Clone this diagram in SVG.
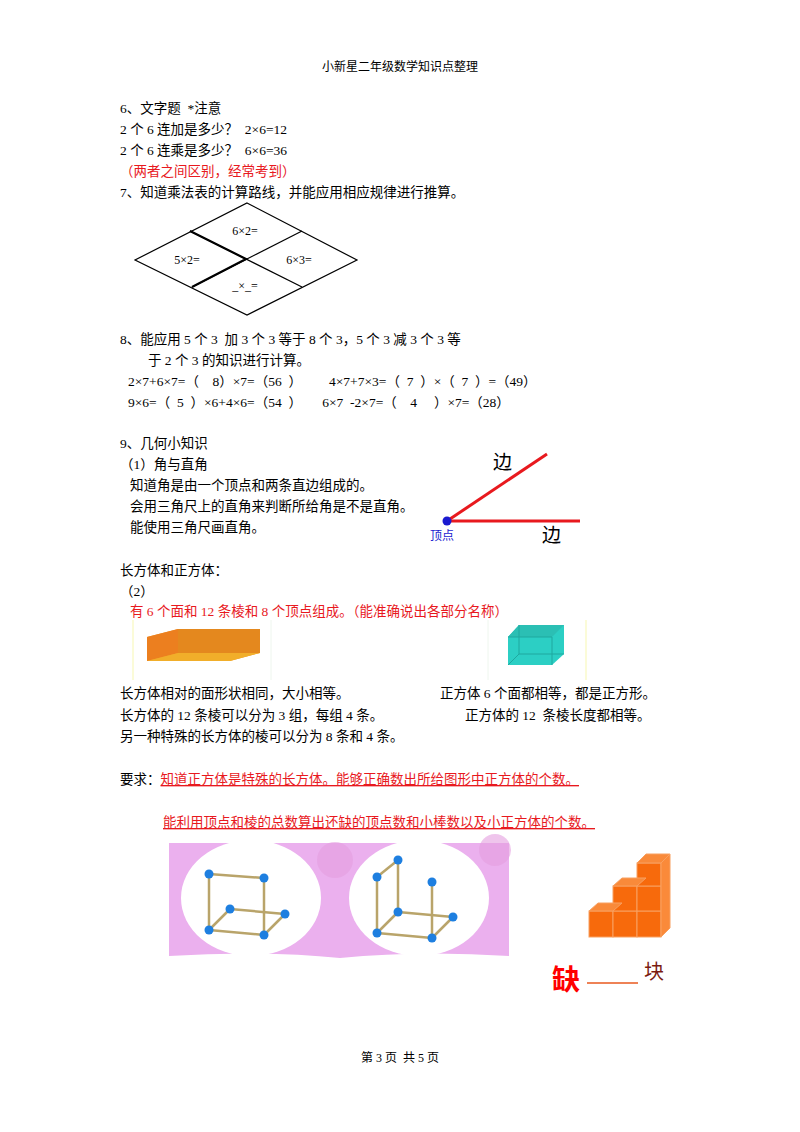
<svg xmlns="http://www.w3.org/2000/svg" width="800" height="1132" viewBox="0 0 800 1132" xml:space="preserve">
<style>
text{font-family:"Liberation Serif","Noto Sans CJK SC",serif;font-size:13.5px;fill:#000;white-space:pre}
.r{fill:#e8191e}
.s{font-size:12px}
.ln{stroke:#000;stroke-width:1.2;fill:none}
.st{stroke:#b9a46a;stroke-width:2.5}
.b{fill:#1e7fe0}
</style>
<rect width="800" height="1132" fill="#fff"/>
<text x="400" y="71" text-anchor="middle" class="s">小新星二年级数学知识点整理</text>
<text x="120" y="113">6、文字题  *注意</text>
<text x="120" y="134">2 个 6 连加是多少？  2×6=12</text>
<text x="120" y="155">2 个 6 连乘是多少？  6×6=36</text>
<text x="120" y="176" class="r">（两者之间区别，经常考到）</text>
<text x="120" y="197">7、知道乘法表的计算路线，并能应用相应规律进行推算。</text>
<g id="diamond">
<polygon class="ln" points="247,203 357,260 247,315 135,260"/>
<line class="ln" x1="190" y1="231" x2="302" y2="287"/>
<line class="ln" x1="302" y1="231" x2="192" y2="287"/>
<polyline points="190,231 246,259 192,287" stroke="#000" stroke-width="2.2" fill="none"/>
<text x="245" y="235" text-anchor="middle" class="s">6×2=</text>
<text x="187" y="264" text-anchor="middle" class="s">5×2=</text>
<text x="299" y="264" text-anchor="middle" class="s">6×3=</text>
<text x="245" y="290" text-anchor="middle" class="s">_×_=</text>
</g>
<text x="120" y="344">8、能应用 5 个 3  加 3 个 3 等于 8 个 3，5 个 3 减 3 个 3 等</text>
<text x="148" y="365">于 2 个 3 的知识进行计算。</text>
<text x="128" y="386">2×7+6×7=（    8）×7=（56  ）        4×7+7×3=（  7  ）×（  7  ）=（49）</text>
<text x="128" y="407">9×6=（  5  ）×6+4×6=（54  ）      6×7  -2×7=（    4     ）×7=（28）</text>
<text x="120" y="448">9、几何小知识</text>
<text x="120" y="469">（1）角与直角</text>
<text x="130" y="490">知道角是由一个顶点和两条直边组成的。</text>
<text x="130" y="511">会用三角尺上的直角来判断所给角是不是直角。</text>
<text x="130" y="532">能使用三角尺画直角。</text>
<g id="angle">
<line x1="447" y1="521" x2="580" y2="521" stroke="#e8191e" stroke-width="3"/>
<line x1="447" y1="521" x2="547" y2="454" stroke="#e8191e" stroke-width="3"/>
<circle cx="447" cy="521" r="4.5" fill="#1a1ad0"/>
<text x="493" y="469" style="font-size:19px">边</text>
<text x="542" y="542" style="font-size:19px">边</text>
<text x="430" y="540" style="font-size:12px;fill:#1a1ad0">顶点</text>
</g>
<text x="120" y="575">长方体和正方体：</text>
<text x="120" y="596">（2）</text>
<text x="130" y="616" class="r">有 6 个面和 12 条棱和 8 个顶点组成。（能准确说出各部分名称）</text>
<g id="cuboid">
<line x1="133" y1="620" x2="133" y2="680" stroke="#fbfbd8" stroke-width="2"/>
<line x1="271" y1="620" x2="271" y2="680" stroke="#eef6ee" stroke-width="1"/>
<polygon points="147,637 178,629 260,629 260,653 230,661 147,661" fill="#f09a28"/>
<polygon points="147,637 178,629 178,653 147,661" fill="#ec7f1f"/>
<polygon points="178,629 260,629 260,653 178,653" fill="#e4881e"/>
<polygon points="147,661 178,653 260,653 230,661" fill="#f1ae2a"/>
</g>
<g id="cube">
<line x1="488" y1="620" x2="488" y2="680" stroke="#eef6ee" stroke-width="1"/>
<line x1="586" y1="620" x2="586" y2="680" stroke="#fbfbd8" stroke-width="2"/>
<polygon points="508,637 519,625 564,625 564,654 552,665 508,665" fill="#2ccfc4"/>
<polygon points="519,625 564,625 552,637 508,637" fill="#2bbfb4"/>
<line x1="519" y1="625" x2="519" y2="654" stroke="#1fa89f"/>
<line x1="519" y1="654" x2="508" y2="665" stroke="#1fa89f"/>
<line x1="519" y1="654" x2="564" y2="654" stroke="#1fa89f"/>
<line x1="508" y1="637" x2="552" y2="637" stroke="#1fa89f"/>
<line x1="552" y1="637" x2="552" y2="665" stroke="#1fa89f"/>
</g>
<text x="120" y="698">长方体相对的面形状相同，大小相等。</text>
<text x="440" y="698">正方体 6 个面都相等，都是正方形。</text>
<text x="120" y="720">长方体的 12 条棱可以分为 3 组，每组 4 条。</text>
<text x="465" y="720">正方体的 12  条棱长度都相等。</text>
<text x="120" y="741">另一种特殊的长方体的棱可以分为 8 条和 4 条。</text>
<text x="120" y="784">要求：<tspan class="r" text-decoration="underline">知道正方体是特殊的长方体。能够正确数出所给图形中正方体的个数。</tspan></text>
<text x="163" y="827" class="r" text-decoration="underline">能利用顶点和棱的总数算出还缺的顶点数和小棒数以及小正方体的个数。</text>
<g id="sticks">
<path d="M169,843 H509 V956 Q420,950 340,958 Q260,950 169,956 Z" fill="#ebb0ee"/>
<circle cx="335" cy="860" r="18" fill="#e49ee0" opacity="0.6"/>
<circle cx="495" cy="850" r="16" fill="#e49ee0" opacity="0.6"/>
<ellipse cx="251" cy="898" rx="70" ry="58" fill="#fff"/>
<ellipse cx="419" cy="898" rx="70" ry="58" fill="#fff"/>
<g class="st">
<line x1="209" y1="874" x2="264" y2="878"/><line x1="209" y1="874" x2="209" y2="930"/>
<line x1="264" y1="878" x2="264" y2="935"/><line x1="209" y1="930" x2="264" y2="935"/>
<line x1="209" y1="930" x2="230" y2="909"/><line x1="230" y1="909" x2="285" y2="914"/>
<line x1="264" y1="935" x2="285" y2="914"/>
<line x1="377" y1="877" x2="398" y2="860"/><line x1="377" y1="877" x2="377" y2="933"/>
<line x1="398" y1="860" x2="398" y2="912"/><line x1="377" y1="933" x2="398" y2="912"/>
<line x1="398" y1="912" x2="453" y2="917"/><line x1="432" y1="882" x2="432" y2="938"/>
<line x1="377" y1="933" x2="432" y2="938"/><line x1="432" y1="938" x2="453" y2="917"/>
</g>
<g class="b">
<circle cx="209" cy="874" r="4.5"/><circle cx="264" cy="878" r="4.5"/><circle cx="209" cy="930" r="4.5"/><circle cx="264" cy="935" r="4.5"/><circle cx="230" cy="909" r="4.5"/><circle cx="285" cy="914" r="4.5"/>
<circle cx="377" cy="877" r="4.5"/><circle cx="398" cy="860" r="4.5"/><circle cx="398" cy="912" r="4.5"/><circle cx="432" cy="882" r="4.5"/><circle cx="377" cy="933" r="4.5"/><circle cx="432" cy="938" r="4.5"/><circle cx="453" cy="917" r="4.5"/>
</g>
</g>
<g id="blocks" stroke="#f8a060" stroke-width="1" fill="#f76a0c">
<rect x="589" y="911" width="24" height="26"/><rect x="613" y="911" width="24" height="26"/><rect x="637" y="911" width="24" height="26"/>
<rect x="613" y="886" width="24" height="25"/><rect x="637" y="886" width="24" height="25"/>
<rect x="637" y="863" width="24" height="23"/>
<polygon points="589,911 598,903 622,903 613,911" fill="#f98a3a"/>
<polygon points="613,886 622,878 646,878 637,886" fill="#f98a3a"/>
<polygon points="637,863 646,854 670,854 661,863" fill="#f98a3a"/>
<polygon points="661,863 670,854 670,928 661,937" fill="#fa8a3a"/>
</g>
<g id="answer">
<text x="552" y="990" style="font-size:28px;font-weight:bold;fill:#f00">缺</text>
<line x1="587" y1="983" x2="638" y2="983" stroke="#e8591e" stroke-width="1.5"/>
<text x="644" y="979" style="font-size:20px;fill:#7a1a10">块</text>
</g>
<text x="400" y="1062" text-anchor="middle" class="s">第 3 页  共 5 页</text>
</svg>
